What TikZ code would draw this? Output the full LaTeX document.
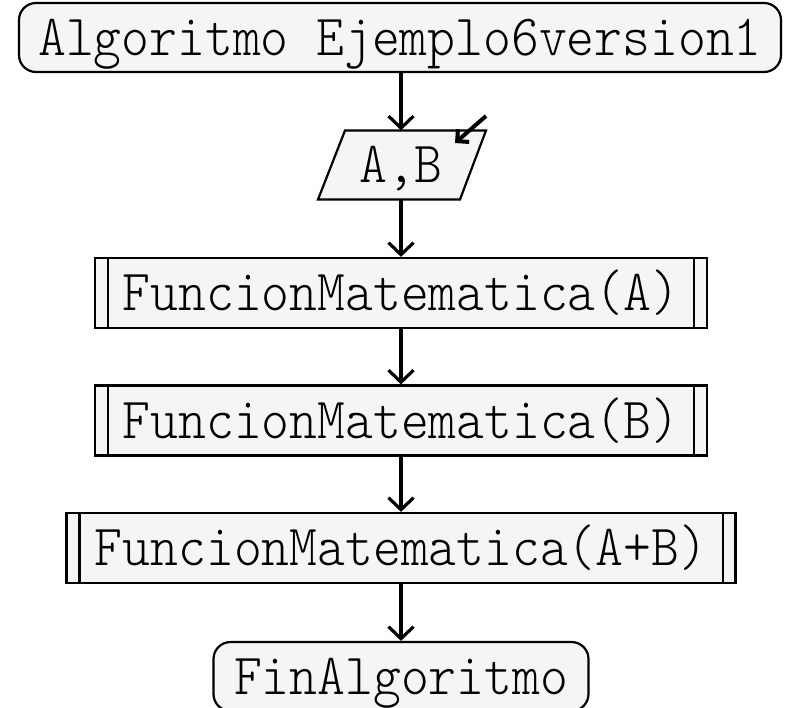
\documentclass[tikz,border=0pt]{standalone}
\usepackage{graphicx}
\usetikzlibrary{arrows.meta,calc}
\newcommand\flowtext[1]{\scalebox{1}[1.1]{\ttfamily\fontseries{l}\fontsize{53}{53}\selectfont #1}}
\begin{document}
\begin{tikzpicture}[x=1pt,y=-1pt,
  shapeline/.style={draw=black, line width=2.2pt, fill=black!4},
  box/.style={shapeline, rectangle, inner sep=0pt, text height=35pt, text depth=0pt},
  term/.style={box, rounded corners=17pt, minimum height=69pt},
  subbox/.style={box, minimum height=70pt},
  conn/.style={line width=3.2pt, -{Straight Barb[length=12pt,width=25pt]}},
  inarrow/.style={line width=4pt, -{Straight Barb[length=8.5pt,width=17pt]}}
]
\useasboundingbox (0,0) rectangle (790,707);

% start terminal
\node[term, minimum width=762pt] (start) at (400,37.5) {\flowtext{Algoritmo Ejemplo6version1}};

% input parallelogram
\coordinate (iocenter) at (401,165);
\path[shapeline] ($(iocenter)+(-56,-34.5)$) -- ($(iocenter)+(85,-34.5)$) -- ($(iocenter)+(59,34.5)$) -- ($(iocenter)+(-83,34.5)$) -- cycle;
\node[rectangle, inner sep=0pt, minimum width=140pt, minimum height=69pt, text height=35pt, text depth=0pt] (io) at (401,165) {\flowtext{A,B}};
\coordinate (inA) at (486,116);
\coordinate (inB) at (455,143);
\draw[inarrow] (inA) -- (inB);

% subprocess boxes
\node[subbox, minimum width=612pt] (fa) at (401,293) {\flowtext{FuncionMatematica(A)}};
\node[subbox, minimum width=612pt] (fb) at (401,420.5) {\flowtext{FuncionMatematica(B)}};
\node[subbox, minimum width=669pt] (fab) at (401,548) {\flowtext{FuncionMatematica(A+B)}};
\foreach \n in {fa,fb,fab}{
  \draw[line width=2.2pt] ([xshift=14pt]\n.north west) -- ([xshift=14pt]\n.south west);
  \draw[line width=2.2pt] ([xshift=-14pt]\n.north east) -- ([xshift=-14pt]\n.south east);
}

% end terminal
\node[term, minimum width=375pt] (fin) at (401,676.5) {\flowtext{FinAlgoritmo}};

% connectors
\draw[conn] (start.south -| io.north) -- (io.north);
\draw[conn] (io.south) -- (fa.north);
\draw[conn] (fa.south) -- (fb.north);
\draw[conn] (fb.south) -- (fab.north);
\draw[conn] (fab.south) -- (fin.north);
\end{tikzpicture}
\end{document}
